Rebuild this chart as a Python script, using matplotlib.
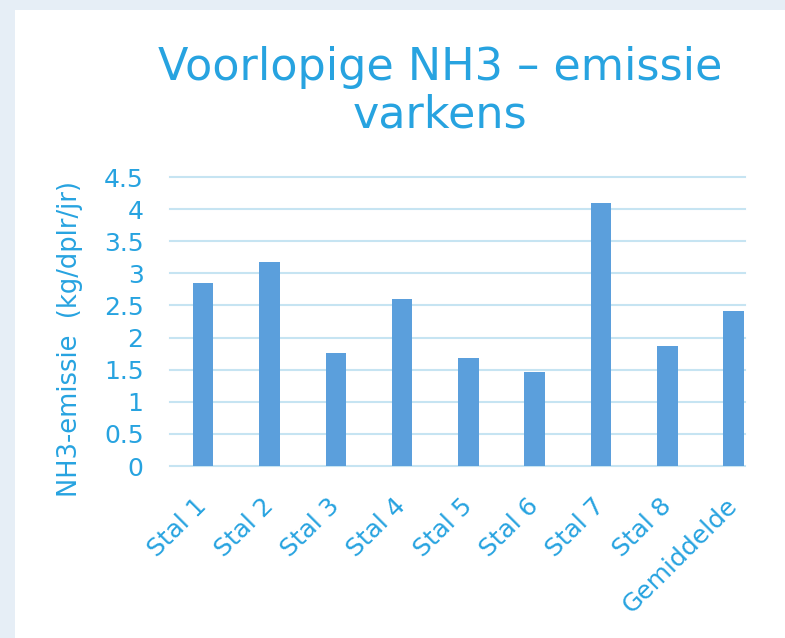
import numpy as np
import matplotlib.pyplot as plt
from matplotlib.patches import Rectangle

categories = ["Stal 1", "Stal 2", "Stal 3", "Stal 4", "Stal 5",
              "Stal 6", "Stal 7", "Stal 8", "Gemiddelde"]
emissions = [2.85, 3.18, 1.76, 2.60, 1.68, 1.46, 4.10, 1.87, 2.41]
y_ticks = [0, 0.5, 1, 1.5, 2, 2.5, 3, 3.5, 4, 4.5]
y_tick_labels = ["0", "0.5", "1", "1.5", "2", "2.5", "3", "3.5", "4", "4.5"]

BAR_COLOR = "#5b9fdc"
TEXT_COLOR = "#27a3e0"
GRID_COLOR = "#c6e4f2"

W, H = 785, 638
fig = plt.figure(figsize=(W / 100, H / 100), dpi=100)
fig.patch.set_facecolor("#e6eef6")
fig.patches.append(Rectangle((15 / W, 0), 1, 1 - 10 / H, transform=fig.transFigure,
                             facecolor="white", edgecolor="none", zorder=-5))

ax = fig.add_axes([170 / W, 1 - 466 / H, 575 / W, 289 / H])
ax.set_zorder(2)
ax.set_facecolor("none")

x = np.arange(len(categories))
ax.bar(x, emissions, width=0.31, color=BAR_COLOR, zorder=3)

ax.set_xlim(-0.5, 8.17)
ax.set_ylim(0, 4.5)
ax.set_yticks(y_ticks)
ax.set_yticklabels(y_tick_labels)
ax.set_xticks(x)
ax.set_xticklabels(categories, rotation=45, ha="right", va="center",
                   rotation_mode="anchor")

ax.grid(axis="y", color=GRID_COLOR, linewidth=1.5, zorder=0)
for line in ax.get_ygridlines():
    line.set_clip_on(False)
for s in ax.spines.values():
    s.set_visible(False)

ax.tick_params(axis="y", length=0, pad=19, labelsize=18, labelcolor=TEXT_COLOR)
ax.tick_params(axis="x", length=0, pad=26, labelsize=18, labelcolor=TEXT_COLOR)

fig.text(440 / W, 1 - 80 / H, "Voorlopige NH3 \u2013 emissie", ha="center",
         va="baseline", fontsize=32, color=TEXT_COLOR)
fig.text(440 / W, 1 - 127 / H, "varkens", ha="center", va="baseline",
         fontsize=32, color=TEXT_COLOR)

fig.text(70 / W, 1 - 339 / H, "NH3-emissie  (kg/dplr/jr)", rotation=90,
         ha="center", va="center", fontsize=18.5, color=TEXT_COLOR)

fig.savefig("out.png", dpi=100)
